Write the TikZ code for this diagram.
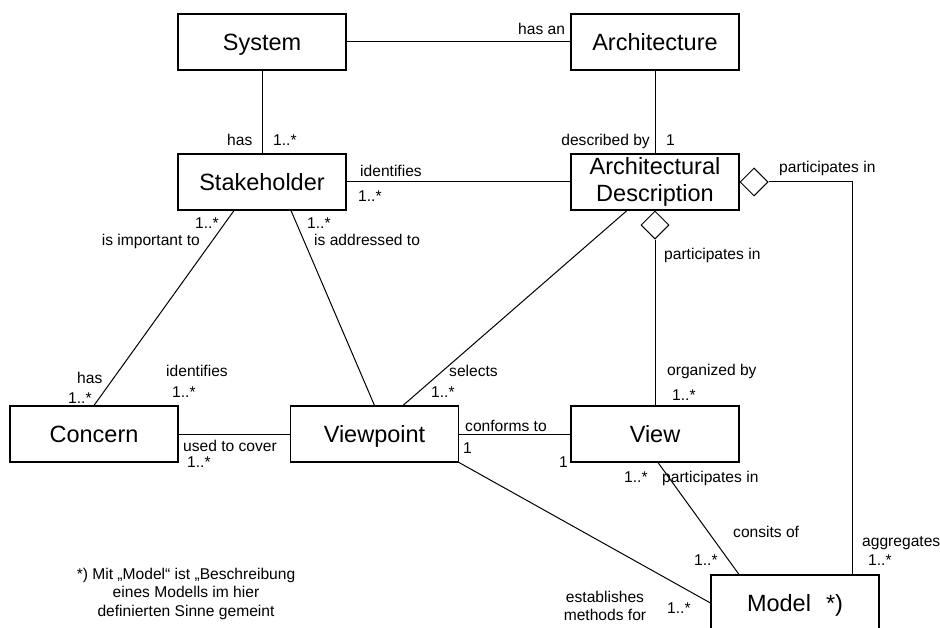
\documentclass[tikz,border=0pt]{standalone}
\usepackage{fontspec}
\setmainfont{Liberation Sans}
\usetikzlibrary{shapes.geometric}
\tikzset{
  clsbase/.style={draw, line width=1.1pt, minimum width=168pt, minimum height=56pt,
    inner sep=0pt, font=\fontsize{23.5}{26.7}\selectfont},
  cls/.style={clsbase, text height=16.8pt, text depth=0pt},
  cls2/.style={clsbase, align=center},
  lbl/.style={inner sep=0pt, font=\fontsize{15.6}{18}\selectfont},
  assoc/.style={line width=1pt},
  aggr/.style={diamond, draw, line width=1pt, minimum width=28pt,
    minimum height=28pt, inner sep=0pt, fill=white},
}
\begin{document}
\begin{tikzpicture}[x=1pt,y=-1pt]
\useasboundingbox (0,0) rectangle (940,628);
\fill[white] (0,0) rectangle (940,628);
\clip (0,0) rectangle (940,628);

% classes
\node[cls]  (sys)     at (262,42)    {System};
\node[cls]  (arch)    at (655,42)    {Architecture};
\node[cls]  (stake)   at (262,182)   {Stakeholder};
\node[cls2] (ad)      at (655,182)   {Architectural\\Description};
\node[cls]  (concern) at (94,434)    {Concern};
\node[cls]  (vp)      at (374.5,434) {Viewpoint};
\node[cls]  (view)    at (655,434)   {View};
\node[cls]  (model)   at (795,603)   {Model\hspace{15pt}*)};

% aggregation diamonds on the architectural description
\node[aggr, anchor=west]  (dr) at (ad.east)  {};
\node[aggr, anchor=north] (db) at (ad.south) {};

% associations
\draw[assoc] (sys.east) -- (arch.west);
\draw[assoc] (sys.south) -- (stake.north);
\draw[assoc] (arch.south) -- (ad.north);
\draw[assoc] (stake.east) -- (ad.west);
\draw[assoc] (dr.east) -| ([xshift=57]model.north);
\draw[assoc] (db.south) -- (view.north);
\draw[assoc] ([xshift=-28]ad.south) -- ([xshift=28.5]vp.north);
\draw[assoc] ([xshift=-28]stake.south) -- (concern.north);
\draw[assoc] ([xshift=29]stake.south) -- (vp.north);
\draw[assoc] (concern.east) -- (vp.west);
\draw[assoc] (vp.east) -- (view.west);
\draw[assoc] (vp.south east) -- (model.west);
\draw[assoc] ([xshift=3]view.south) -- ([xshift=-56]model.north);

% role names and multiplicities
\node[lbl, anchor=base west] (l1)  at (518,35)  {has an};
\node[lbl, anchor=base west] (l2)  at (227,146) {has};
\node[lbl, anchor=base west] (l3)  at (273,146) {1..*};
\node[lbl, anchor=base east] (l4)  at (650,146) {described by};
\node[lbl, anchor=base west] (l5)  at (666,146) {1};
\node[lbl, anchor=base west] (l6)  at (360,177) {identifies};
\node[lbl, anchor=base west] (l7)  at (358,202) {1..*};
\node[lbl, anchor=base west] (l8)  at (779,173) {participates in};
\node[lbl, anchor=base west] (l9)  at (664,260) {participates in};
\node[lbl, anchor=base west] (l10) at (195,229) {1..*};
\node[lbl, anchor=base east] (l11) at (200,246) {is important to};
\node[lbl, anchor=base west] (l12) at (307,229) {1..*};
\node[lbl, anchor=base west] (l13) at (314,246) {is addressed to};
\node[lbl, anchor=base west] (l14) at (77,383)  {has};
\node[lbl, anchor=base west] (l15) at (68,403)  {1..*};
\node[lbl, anchor=base west] (l16) at (166,376) {identifies};
\node[lbl, anchor=base west] (l17) at (172,397) {1..*};
\node[lbl, anchor=base west] (l18) at (183,451) {used to cover};
\node[lbl, anchor=base west] (l19) at (187,467) {1..*};
\node[lbl, anchor=base west] (l20) at (449,377) {selects};
\node[lbl, anchor=base west] (l21) at (431,397) {1..*};
\node[lbl, anchor=base west] (l22) at (667,375) {organized by};
\node[lbl, anchor=base west] (l23) at (672,400) {1..*};
\node[lbl, anchor=base west] (l24) at (465,431) {conforms to};
\node[lbl, anchor=base west] (l25) at (463,453) {1};
\node[lbl, anchor=base west] (l26) at (559,467) {1};
\node[lbl, anchor=base west] (l27) at (624,482) {1..*};
\node[lbl, anchor=base west] (l28) at (662,482) {participates in};
\node[lbl, anchor=base west] (l29) at (733,537) {consits of};
\node[lbl, anchor=base west] (l30) at (862,546) {aggregates};
\node[lbl, anchor=base west] (l31) at (868,565) {1..*};
\node[lbl, anchor=base west] (l32) at (694,565) {1..*};
\node[lbl, anchor=base]      (l33) at (605,602) {establishes};
\node[lbl, anchor=base]      (l34) at (605,620) {methods for};
\node[lbl, anchor=base west] (l35) at (667,613) {1..*};

% footnote
\node[lbl, anchor=base] (f1) at (186,579) {*) Mit „Model“ ist „Beschreibung};
\node[lbl, anchor=base] (f2) at (186,597) {eines Modells im hier};
\node[lbl, anchor=base] (f3) at (186,616) {definierten Sinne gemeint};
\end{tikzpicture}
\end{document}
